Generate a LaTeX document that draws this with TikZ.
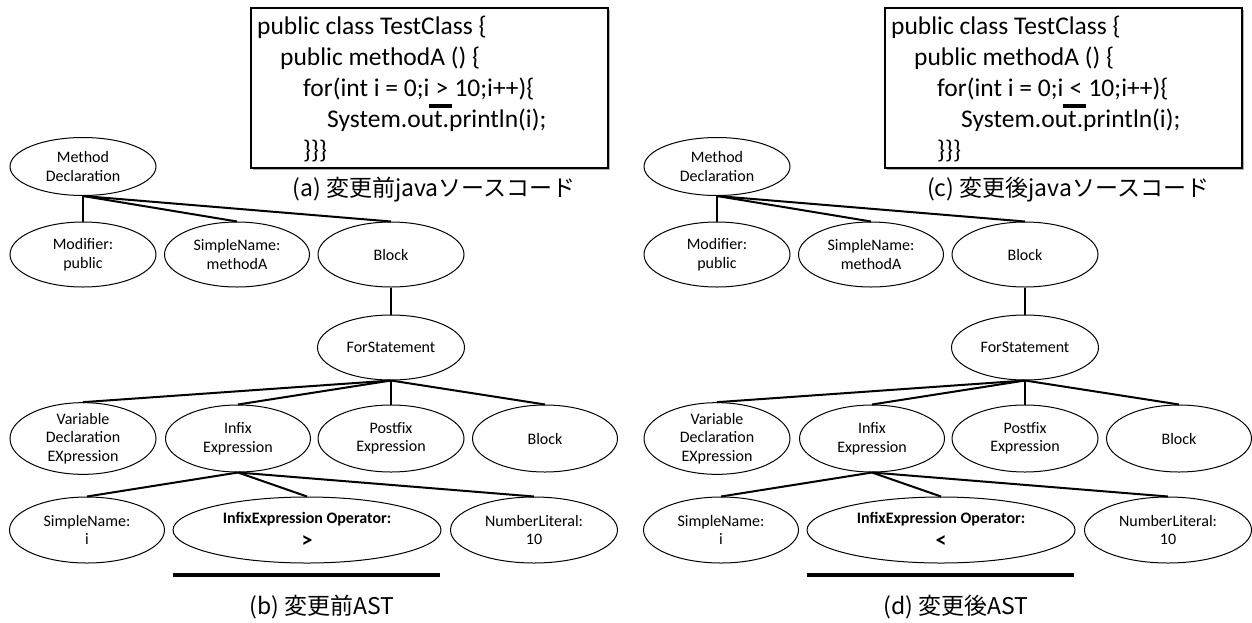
\documentclass[tikz,border=0pt]{standalone}
\usepackage{fontspec}
\setmainfont{Carlito}
\newfontfamily\jpfont{Noto Sans CJK JP}
\usetikzlibrary{shapes.geometric}
\tikzset{
  astnode/.style={ellipse, draw, line width=1pt, inner sep=0pt, minimum width=146pt, minimum height=65pt, align=center, font=\fontsize{16}{18.5}\selectfont},
  edgeline/.style={line width=2pt},
  codeline/.style={anchor=base west, inner sep=0pt, font=\fontsize{25.5}{25.5}\selectfont},
  capnode/.style={font=\jpfont\fontsize{23}{23}\selectfont, inner sep=0pt},
  hibar/.style={line width=4pt},
  codebox/.style={draw, fill=white, line width=1.3pt, minimum width=357pt, minimum height=160pt, inner sep=0pt},
  shadowbox/.style={fill=black!30, minimum width=357pt, minimum height=160pt, inner sep=0pt}
}
\newcommand\astpanel[5]{%
\begin{scope}[xshift=#2]
  % code box
  \node[shadowbox] (#1shadow) at (431.5,90) {};
  \node[codebox] (#1code) at (429.5,88) {};
  \node[codeline] (#1c1) at (257,34) {public class TestClass \{};
  \node[codeline] (#1c2) at (280,65) {public methodA () \{};
  \node[codeline] (#1c3) at (303,96) {for(int i = 0;i\ \null};
  \node[codeline] (#1c3op) at (#1c3.base east) {#3};
  \node[codeline] (#1c3b) at (#1c3op.base east) {\null\ 10;i++)\{};
  \node[codeline] (#1c4) at (327,127) {System.out.println(i);};
  \node[codeline] (#1c5) at (303,158) {\}\}\}};
  \coordinate (#1u1) at ([shift={(-6,10)}]#1c3op.base west);
  \coordinate (#1u2) at ([shift={(3,10)}]#1c3op.base east);
  \draw[hibar] (#1u1) -- (#1u2);
  \node[capnode] (#1capa) at (434,190) {#4};
  % tree
  \node[astnode, minimum height=58pt] (#1md) at (83,166.5) {Method\\Declaration};
  \node[astnode] (#1mod) at (83,254.5) {Modifier:\\public};
  \node[astnode, minimum width=145pt] (#1sn) at (237,254.5) {SimpleName:\\methodA};
  \node[astnode] (#1blk) at (391,254.5) {Block};
  \node[astnode, minimum width=147pt] (#1for) at (391,347.5) {ForStatement};
  \node[astnode, minimum height=67pt] (#1vde) at (83,438.5) {Variable\\Declaration\\EXpression};
  \node[astnode, minimum height=67pt, minimum width=145pt] (#1inf) at (238,438.5) {Infix\\Expression};
  \node[astnode, minimum height=67pt] (#1post) at (391,438.5) {Postfix\\Expression};
  \node[astnode, minimum height=67pt, minimum width=145pt] (#1blk2) at (545,438.5) {Block};
  \node[astnode, minimum height=66pt, minimum width=155pt] (#1sni) at (87,530) {SimpleName:\\i};
  \node[astnode, minimum height=66pt, minimum width=268pt] (#1op) at (307,530) {\textbf{InfixExpression Operator:}\\[5pt]{\fontsize{22}{22}\selectfont\bfseries #3}};
  \node[astnode, minimum height=66pt, minimum width=167pt] (#1num) at (534,530) {NumberLiteral:\\10};
  \draw[edgeline] (#1md.south) -- (#1mod.north);
  \draw[edgeline] (#1md.south) -- (#1sn.north);
  \draw[edgeline] (#1md.south) -- (#1blk.north);
  \draw[edgeline] (#1blk.south) -- (#1for.north);
  \draw[edgeline] (#1for.south) -- (#1vde.north);
  \draw[edgeline] (#1for.south) -- (#1inf.north);
  \draw[edgeline] (#1for.south) -- (#1post.north);
  \draw[edgeline] (#1for.south) -- (#1blk2.north);
  \draw[edgeline] (#1inf.south) -- (#1sni.north);
  \draw[edgeline] (#1inf.south) -- (#1op.north);
  \draw[edgeline] (#1inf.south) -- (#1num.north);
  \coordinate (#1b1) at (173,575);
  \coordinate (#1b2) at (440,575);
  \draw[hibar] (#1b1) -- (#1b2);
  \node[capnode] (#1capb) at (322,607) {#5};
\end{scope}}
\begin{document}
\begin{tikzpicture}[x=1pt,y=-1pt]
  \useasboundingbox (0,0) rectangle (1252,622);
  \fill[white] (0,0) rectangle (1252,622);
  \astpanel{L}{0}{>}{(a) 変更前javaソースコード}{(b) 変更前AST}
  \astpanel{R}{634}{<}{(c) 変更後javaソースコード}{(d) 変更後AST}
\end{tikzpicture}
\end{document}
